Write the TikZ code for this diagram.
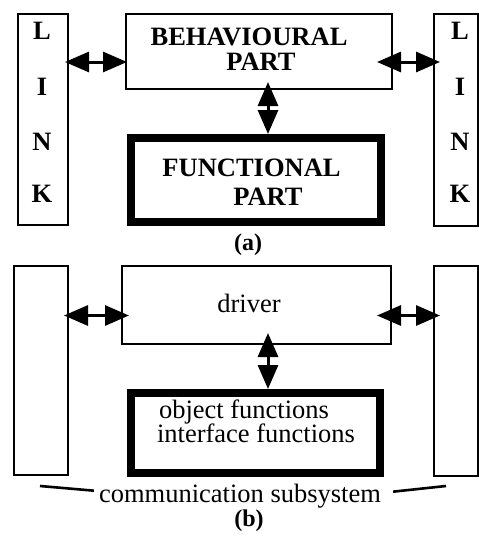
\documentclass[tikz,border=0pt]{standalone}
\usepackage{fontspec}
\setmainfont{Liberation Serif}
\usetikzlibrary{arrows.meta}
\tikzset{
  thinbox/.style={draw, line width=2pt, inner sep=0pt, minimum width=#1},
  thickbox/.style={draw, line width=8pt, inner sep=0pt},
  bigtxt/.style={anchor=base, inner sep=0pt, font=\fontsize{26.5}{26}\selectfont},
  boldtxt/.style={anchor=base, inner sep=0pt, font=\fontsize{26.5}{26}\selectfont\bfseries},
  captxt/.style={anchor=base, inner sep=0pt, font=\fontsize{24}{24}\selectfont\bfseries},
  dblarrow/.style={line width=3pt, {Triangle[length=24pt,width=20pt]}-{Triangle[length=24pt,width=20pt]}},
  brace/.style={line width=2.6pt}
}
\begin{document}
\begin{tikzpicture}[x=1pt,y=-1pt]
\useasboundingbox (0,0) rectangle (479,538);
% ---------- (a) ----------
\node[thinbox=50pt, minimum height=211pt] (linkL) at (43,119.5) {};
\node[thinbox=266pt, minimum height=75pt] (beh) at (259,51.5) {};
\node[thinbox=44pt, minimum height=212pt] (linkR) at (456,120) {};
\node[thickbox, minimum width=250pt, minimum height=84pt] (func) at (256,180) {};
\node[boldtxt] (l1) at (42,39) {L};
\node[boldtxt] (l2) at (42,95) {I};
\node[boldtxt] (l3) at (42,150) {N};
\node[boldtxt] (l4) at (42,202) {K};
\node[boldtxt] (r1) at (460,39) {L};
\node[boldtxt] (r2) at (460,95) {I};
\node[boldtxt] (r3) at (460,150) {N};
\node[boldtxt] (r4) at (460,202) {K};
\node[boldtxt] (behA) at (249,45) {BEHAVIOURAL};
\node[boldtxt] (behB) at (261,70) {PART};
\node[boldtxt] (funA) at (251.5,176) {FUNCTIONAL};
\node[boldtxt] (funB) at (268,205) {PART};
\node[captxt] (capa) at (248,250) {(a)};
\coordinate (ya) at (0,62);
\coordinate (va) at (268,0);
\draw[dblarrow, shorten <=-4pt, shorten >=-2pt] (linkL.east |- ya) -- (beh.west |- ya);
\draw[dblarrow, shorten <=-16pt, shorten >=-7pt] (beh.east |- ya) -- (linkR.west |- ya);
\draw[dblarrow, shorten <=-8pt] (beh.south -| va) -- (func.north -| va);
% ---------- (b) ----------
\node[thinbox=54pt, minimum height=209pt] (commL) at (41,370.5) {};
\node[thinbox=269pt, minimum height=78pt] (drv) at (256.5,305) {};
\node[thinbox=44pt, minimum height=210pt] (commR) at (456,371) {};
\node[thickbox, minimum width=249pt, minimum height=80pt] (objf) at (255.5,433) {};
\node[bigtxt] (drvT) at (249,312) {driver};
\node[bigtxt] (objA) at (244,418) {object functions};
\node[bigtxt] (objB) at (256,442) {interface functions};
\node[bigtxt] (comm) at (240,502) {communication subsystem};
\node[captxt] (capb) at (249,526) {(b)};
\coordinate (yb) at (0,315.5);
\draw[dblarrow, shorten <=-5pt, shorten >=-8pt] (commL.east |- yb) -- (drv.west |- yb);
\draw[dblarrow, shorten <=-15pt, shorten >=-7pt] (drv.east |- yb) -- (commR.west |- yb);
\draw[dblarrow, shorten <=-12pt] (drv.south -| va) -- (objf.north -| va);
\coordinate (bl) at (40,486);
\coordinate (br) at (446,486);
\draw[brace] (bl) -- ([xshift=-5pt,yshift=5pt]comm.west);
\draw[brace] (br) -- ([xshift=12pt,yshift=4pt]comm.east);
\end{tikzpicture}
\end{document}
